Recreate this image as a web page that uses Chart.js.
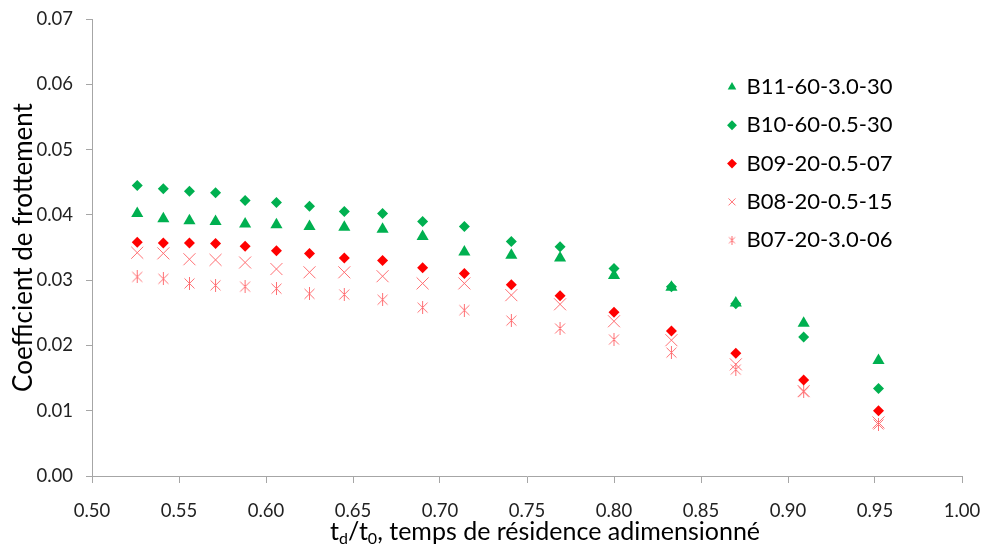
<!DOCTYPE html>
<html lang="fr">
<head>
<meta charset="UTF-8">
<title>Coefficient de frottement</title>
<script src="https://cdn.jsdelivr.net/npm/chart.js"></script>
<style>
  html, body { margin: 0; padding: 0; background: #fff; }
  #wrap { width: 984px; height: 552px; }
</style>
</head>
<body>
<div id="wrap"><canvas id="chart" width="984" height="552"></canvas></div>
<script>
// temps de résidence adimensionné (axe x)
const tRes = [0.526, 0.541, 0.556, 0.571, 0.588, 0.606, 0.625, 0.645, 0.667,
              0.690, 0.714, 0.741, 0.769, 0.800, 0.833, 0.870, 0.909, 0.952];

const b11 = [0.0402, 0.0394, 0.0391, 0.0390, 0.0386, 0.0385, 0.0382, 0.0381, 0.0378,
             0.0367, 0.0343, 0.0338, 0.0334, 0.0307, 0.0289, 0.0265, 0.0234, 0.0177];
const b10 = [0.0445, 0.0440, 0.0436, 0.0434, 0.0422, 0.0419, 0.0413, 0.0405, 0.0402,
             0.0390, 0.0382, 0.0359, 0.0351, 0.0318, 0.0290, 0.0264, 0.0213, 0.0134];
const b09 = [0.0358, 0.0357, 0.0357, 0.0356, 0.0352, 0.0345, 0.0341, 0.0334, 0.0330,
             0.0319, 0.0310, 0.0293, 0.0276, 0.0251, 0.0222, 0.0188, 0.0147, 0.0100];
const b08 = [0.0342, 0.0341, 0.0332, 0.0331, 0.0327, 0.0317, 0.0312, 0.0312, 0.0306,
             0.0295, 0.0295, 0.0277, 0.0263, 0.0237, 0.0208, 0.0171, 0.0130, 0.0082];
const b07 = [0.0305, 0.0302, 0.0295, 0.0292, 0.0290, 0.0287, 0.0279, 0.0278, 0.0270,
             0.0258, 0.0254, 0.0238, 0.0226, 0.0209, 0.0189, 0.0163, 0.0129, 0.0079];

const seriesNames = ['B11-60-3.0-30', 'B10-60-0.5-30', 'B09-20-0.5-07', 'B08-20-0.5-15', 'B07-20-3.0-06'];

const GREEN = '#00b050';
const RED = '#ff0000';
const PINK = '#ff6f73';
const FONT = 'Lato, "Open Sans", sans-serif';

function pts(ys) {
    return ys.map((y, i) => ({ x: tRes[i], y: y }));
}

// marqueur étoile façon Excel : X + trait vertical
function starMarker(s) {
    const c = document.createElement('canvas');
    c.width = s; c.height = s;
    const g = c.getContext('2d');
    g.strokeStyle = PINK;
    g.lineWidth = 1;
    const m = s / 2, d = s / 2 - 1.5;
    g.beginPath();
    g.moveTo(m - d, m - d); g.lineTo(m + d, m + d);
    g.moveTo(m + d, m - d); g.lineTo(m - d, m + d);
    g.moveTo(m, 0); g.lineTo(m, s);
    g.stroke();
    return c;
}
const starBig = starMarker(13);
const starSmall = starMarker(9);

// légende placée dans la zone du graphique, en haut à droite
const legendSpot = {
    id: 'legendSpot',
    afterUpdate(chart) {
        const lg = chart.legend;
        const o = lg.options.labels;
        const fs = o.font.size;
        lg.left = 732 - o.padding - o.boxWidth / 2;
        lg.top = 87 - o.padding - fs / 2;
        lg.right = lg.left + 230;
        lg.bottom = lg.top + 400;
        lg.width = 230;
        lg.height = 400;
    }
};

// titre de l'axe x avec indices
const xTitle = {
    id: 'xTitle',
    afterDraw(chart) {
        const ctx = chart.ctx;
        const big = 'normal 25px ' + FONT;
        const small = 'normal 16px ' + FONT;
        const parts = [['t', 0], ['d', 1], ['/t', 0], ['0', 1], [', temps de résidence adimensionné', 0]];
        ctx.save();
        let total = 0;
        parts.forEach(p => { ctx.font = p[1] ? small : big; total += ctx.measureText(p[0]).width; });
        let x = 545 - total / 2;
        const base = 540;
        ctx.fillStyle = '#000';
        ctx.textBaseline = 'alphabetic';
        ctx.textAlign = 'left';
        parts.forEach(p => {
            ctx.font = p[1] ? small : big;
            ctx.fillText(p[0], x, p[1] ? base + 4 : base);
            x += ctx.measureText(p[0]).width;
        });
        ctx.restore();
    }
};

new Chart(document.getElementById('chart'), {
    type: 'scatter',
    data: {
        datasets: [
            { label: seriesNames[0], data: pts(b11), pointStyle: 'triangle', pointRadius: 7,
              backgroundColor: GREEN, borderColor: GREEN, borderWidth: 0 },
            { label: seriesNames[1], data: pts(b10), pointStyle: 'rectRot', pointRadius: 5.5,
              backgroundColor: GREEN, borderColor: GREEN, borderWidth: 0 },
            { label: seriesNames[2], data: pts(b09), pointStyle: 'rectRot', pointRadius: 5.5,
              backgroundColor: RED, borderColor: RED, borderWidth: 0 },
            { label: seriesNames[3], data: pts(b08), pointStyle: 'crossRot', pointRadius: 8.5,
              backgroundColor: PINK, borderColor: PINK, borderWidth: 1 },
            { label: seriesNames[4], data: pts(b07), pointStyle: starBig, pointRadius: 6.5,
              backgroundColor: PINK, borderColor: PINK, borderWidth: 1 }
        ]
    },
    options: {
        responsive: false,
        animation: false,
        events: [],
        layout: { padding: { left: 0, right: 22, top: 19, bottom: 0 } },
        scales: {
            x: {
                type: 'linear',
                min: 0.5, max: 1.0,
                border: { color: '#a6a6a6', width: 1 },
                grid: { drawOnChartArea: false, drawTicks: true, tickLength: 7, color: '#a6a6a6' },
                ticks: { stepSize: 0.05, padding: 17, color: '#222',
                         font: { family: FONT, size: 18.5 },
                         callback: v => v.toFixed(2) },
                afterFit: s => { s.height = 76; s.paddingLeft = 0; s.paddingRight = 0; }
            },
            y: {
                type: 'linear',
                min: 0, max: 0.07,
                border: { color: '#a6a6a6', width: 1 },
                grid: { drawOnChartArea: false, drawTicks: true, tickLength: 6, color: '#a6a6a6' },
                ticks: { stepSize: 0.01, padding: 13, color: '#222',
                         font: { family: FONT, size: 18.5 },
                         callback: v => v.toFixed(2) },
                title: { display: true, text: 'Coefficient de frottement', color: '#000',
                         font: { family: FONT, size: 26 }, padding: { top: 8, bottom: 0 } },
                afterFit: s => { s.width = 92; s.paddingTop = 0; s.paddingBottom = 0; }
            }
        },
        plugins: {
            tooltip: { enabled: false },
            legend: {
                position: 'chartArea',
                align: 'start',
                labels: {
                    usePointStyle: true,
                    boxWidth: 7,
                    boxHeight: 7,
                    padding: 16.3,
                    color: '#000',
                    font: { family: FONT, size: 22 },
                    generateLabels(chart) {
                        const items = Chart.defaults.plugins.legend.labels.generateLabels(chart);
                        items.forEach(it => { if (it.pointStyle === starBig) it.pointStyle = starSmall; });
                        return items;
                    }
                }
            }
        }
    },
    plugins: [legendSpot, xTitle]
});
</script>
</body>
</html>
